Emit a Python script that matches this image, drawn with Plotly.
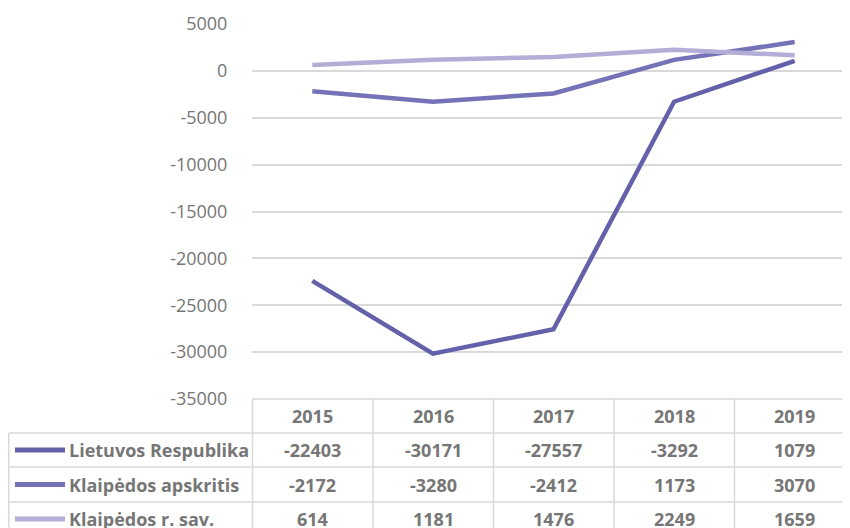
import plotly.graph_objects as go

years = ["2015", "2016", "2017", "2018", "2019"]
series_names = ["Lietuvos Respublika", "Klaipėdos apskritis", "Klaipėdos r. sav."]
lietuva = [-22403, -30171, -27557, -3292, 1079]
apskritis = [-2172, -3280, -2412, 1173, 3070]
savivaldybe = [614, 1181, 1476, 2249, 1659]
colors = ["#6461AA", "#7572B8", "#B3ADD8"]
y_ticks = list(range(-35000, 5001, 5000))

series = [lietuva, apskritis, savivaldybe]

# the page body has an 8px margin; lay the figure out in window pixels minus that
OFF = 8
W, H = 850 - OFF, 528 - OFF
L, R, T, B = 252 - OFF, 850 - OFF, 24 - OFF, 399 - OFF  # plot area in figure px


def px_x(p):
    return (p - OFF - L) / (R - L)


def px_y(p):
    return (B - (p - OFF)) / (B - T)


col_w = 120.5
x0_cat = 252.5  # window px of left edge of first category
x_range = [-0.5, (850 - x0_cat) / col_w - 0.5]

fig = go.Figure()
idx = list(range(len(years)))
for name, vals, c in zip(series_names, series, colors):
    fig.add_trace(go.Scatter(x=idx, y=vals, mode="lines", name=name,
                             line=dict(color=c, width=4.5), showlegend=False,
                             cliponaxis=False))

grid = "#D9D9D9"
txt = "#767676"
font_fam = "Open Sans, sans-serif"
fsize = 18
shapes = []
annotations = []

row_tops = [399, 433, 467, 502, 536]  # window px
# horizontal lines
shapes.append(dict(type="line", xref="paper", yref="paper", x0=px_x(x0_cat), x1=px_x(870),
                   y0=px_y(399), y1=px_y(399), line=dict(color=grid, width=1.5)))
for yy in row_tops[1:]:
    shapes.append(dict(type="line", xref="paper", yref="paper", x0=px_x(8.75), x1=px_x(870),
                       y0=px_y(yy), y1=px_y(yy), line=dict(color=grid, width=1.5)))
# vertical lines
for k in range(len(years) + 1):
    xx = x0_cat + k * col_w
    shapes.append(dict(type="line", xref="paper", yref="paper", x0=px_x(xx), x1=px_x(xx),
                       y0=px_y(399), y1=px_y(560), line=dict(color=grid, width=1.5)))
shapes.append(dict(type="line", xref="paper", yref="paper", x0=px_x(8.75), x1=px_x(8.75),
                   y0=px_y(433), y1=px_y(560), line=dict(color=grid, width=1.5)))

# header years
for k, yr in enumerate(years):
    cx = x0_cat + (k + 0.5) * col_w
    annotations.append(dict(x=px_x(cx), y=px_y(416), xref="paper", yref="paper", text=f"<b>{yr}</b>",
                            showarrow=False, font=dict(family=font_fam, size=fsize, color=txt),
                            xanchor="center", yanchor="middle"))
# rows
for r, (name, vals, c) in enumerate(zip(series_names, series, colors)):
    cy = (row_tops[r + 1] + row_tops[r + 2]) / 2
    shapes.append(dict(type="line", xref="paper", yref="paper", x0=px_x(15), x1=px_x(65),
                       y0=px_y(cy), y1=px_y(cy), line=dict(color=c, width=5)))
    annotations.append(dict(x=px_x(67), y=px_y(cy), xref="paper", yref="paper", text=f"<b>{name}</b>",
                            showarrow=False, font=dict(family=font_fam, size=fsize, color=txt),
                            xanchor="left", yanchor="middle"))
    for k, v in enumerate(vals):
        cx = x0_cat + (k + 0.5) * col_w
        annotations.append(dict(x=px_x(cx), y=px_y(cy), xref="paper", yref="paper", text=f"<b>{v}</b>",
                                showarrow=False, font=dict(family=font_fam, size=fsize, color=txt),
                                xanchor="center", yanchor="middle"))

fig.update_layout(
    width=W, height=H,
    margin=dict(l=L, r=W - R, t=T, b=H - B, pad=0),
    paper_bgcolor="white", plot_bgcolor="white",
    xaxis=dict(range=x_range, showticklabels=False, showgrid=False, zeroline=False,
               showline=False, fixedrange=True),
    yaxis=dict(range=[-35000, 5000], tickvals=y_ticks, ticktext=[str(v) for v in y_ticks],
               showgrid=True, gridcolor=grid, gridwidth=1.5, zeroline=False, showline=False,
               ticks="outside", ticklen=20, tickcolor="rgba(0,0,0,0)",
               tickfont=dict(family=font_fam, size=18, color=txt)),
    shapes=shapes, annotations=annotations,
)

fig.write_html("out.html")
